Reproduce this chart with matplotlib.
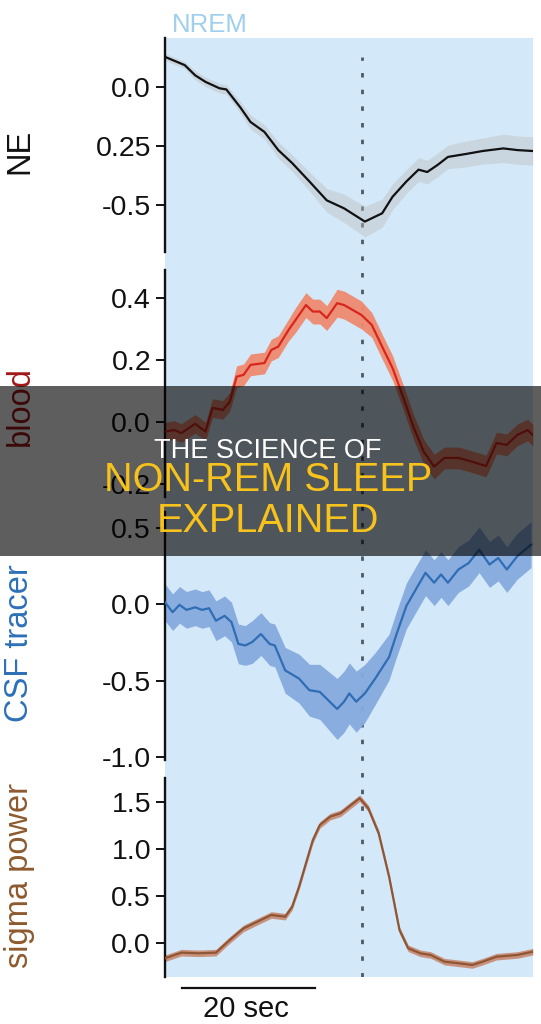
import matplotlib
matplotlib.use("Agg")
import matplotlib.pyplot as plt
from matplotlib.patches import Rectangle
import numpy as np

plt.rcParams['font.family'] = ['Liberation Sans', 'DejaVu Sans']

# ---------------- data (time in sec relative to the dashed line) ----------------
ne_t = [-29.5, -26.54, -24.98, -23.42, -21.34, -20.3, -18.23, -16.67, -14.59, -12.51,
        -10.43, -7.84, -5.24, -2.64, 0.48, 3.07, 4.63, 6.71, 8.53, 9.83, 11.39, 12.94,
        15.54, 18.14, 21.25, 23.33, 25.67]
ne_v = [0.128, 0.093, 0.05, 0.022, -0.005, -0.01, -0.085, -0.148, -0.19, -0.267,
        -0.322, -0.40, -0.48, -0.514, -0.57, -0.535, -0.465, -0.40, -0.35, -0.36,
        -0.33, -0.296, -0.284, -0.271, -0.26, -0.267, -0.271]
ne_e = [0.015, 0.015, 0.02, 0.02, 0.02, 0.02, 0.025, 0.03, 0.03, 0.035, 0.035, 0.04,
        0.05, 0.06, 0.065, 0.06, 0.055, 0.05, 0.05, 0.05, 0.05, 0.05, 0.055, 0.055,
        0.06, 0.06, 0.06]

blood_t = [-29.5, -28.1, -27.06, -24.98, -23.42, -22.38, -20.82, -19.79, -18.75, -17.71,
           -16.67, -14.59, -13.55, -12.51, -10.95, -9.91, -8.36, -7.32, -6.28, -5.24,
           -3.68, -2.64, -0.04, 1.51, 3.07, 4.63, 6.19, 7.75, 9.31, 10.87, 12.42, 14.5,
           16.06, 18.66, 20.22, 21.77, 23.33, 24.89, 25.67]
blood_v = [-0.031, -0.026, -0.036, -0.006, -0.031, 0.045, 0.039, 0.065, 0.146, 0.152,
           0.184, 0.19, 0.232, 0.243, 0.297, 0.329, 0.377, 0.356, 0.356, 0.335,
           0.383, 0.377, 0.345, 0.313, 0.243, 0.174, 0.082, -0.015, -0.096, -0.144,
           -0.116, -0.116, -0.125, -0.142, -0.068, -0.074, -0.042, -0.026, -0.042]
blood_e = [0.03, 0.03, 0.03, 0.03, 0.03, 0.03, 0.03, 0.03, 0.035, 0.035,
           0.035, 0.035, 0.035, 0.035, 0.035, 0.04, 0.04, 0.04, 0.04, 0.04,
           0.045, 0.045, 0.045, 0.04, 0.04, 0.04, 0.04, 0.04, 0.04, 0.04,
           0.035, 0.035, 0.035, 0.035, 0.035, 0.035, 0.035, 0.035, 0.035]

csf_t = [-29.5, -28.36, -27.32, -26.28, -24.98, -23.94, -22.9, -21.86, -20.56, -19.53,
         -18.49, -17.45, -16.41, -15.11, -13.81, -13.03, -11.47, -9.39, -7.84, -6.28,
         -3.68, -2.64, -1.86, -0.82, 0.48, 2.03, 4.11, 5.15, 6.71, 8.27, 9.57, 10.87,
         11.9, 12.94, 14.5, 16.06, 17.62, 19.18, 20.48, 21.77, 23.33, 25.41]
csf_v = [0.013, -0.052, -0.004, -0.037, -0.02, -0.037, -0.026, -0.108, -0.076, -0.117,
         -0.26, -0.27, -0.247, -0.195, -0.26, -0.27, -0.433, -0.487, -0.563, -0.574,
         -0.686, -0.638, -0.584, -0.638, -0.584, -0.487, -0.346, -0.206, -0.011, 0.108,
         0.206, 0.141, 0.195, 0.141, 0.227, 0.27, 0.357, 0.26, 0.303, 0.227, 0.314, 0.39]
csf_e = [0.12, 0.12, 0.12, 0.12, 0.12, 0.12, 0.12, 0.13, 0.13, 0.13,
         0.13, 0.13, 0.14, 0.14, 0.14, 0.14, 0.15, 0.16, 0.17, 0.18,
         0.2, 0.2, 0.2, 0.2, 0.19, 0.17, 0.15, 0.15, 0.15, 0.15,
         0.15, 0.15, 0.15, 0.15, 0.15, 0.15, 0.15, 0.15, 0.15, 0.15, 0.15, 0.15]

sig_t = [-29.5, -27.06, -24.46, -21.86, -19.79, -17.71, -15.63, -13.55, -11.47, -10.43,
         -9.39, -8.36, -7.32, -6.28, -4.72, -3.16, -1.6, -0.3, 0.99, 2.55, 4.11, 5.67,
         6.97, 8.79, 10.35, 12.42, 14.5, 16.58, 18.14, 20.22, 23.33, 25.67]
sig_v = [-0.163, -0.103, -0.11, -0.103, 0.032, 0.156, 0.227, 0.298, 0.28, 0.386,
         0.6, 0.848, 1.096, 1.255, 1.344, 1.38, 1.468, 1.54, 1.433, 1.167, 0.706, 0.138,
         -0.056, -0.11, -0.128, -0.199, -0.216, -0.234, -0.199, -0.146, -0.128, -0.093]
sig_e = [0.035] * len(sig_t)

ne_ticks = [0.0, -0.25, -0.5]
ne_ticklabels = ["0.0", "0.25", "-0.5"]
blood_ticks = [0.4, 0.2, 0.0, -0.2]
blood_ticklabels = ["0.4", "0.2", "0.0", "-0.2"]
csf_ticks = [0.5, 0.0, -0.5, -1.0]
csf_ticklabels = ["0.5", "0.0", "-0.5", "-1.0"]
sig_ticks = [1.5, 1.0, 0.5, 0.0]
sig_ticklabels = ["1.5", "1.0", "0.5", "0.0"]

XLIM = (-29.5, 25.7)
W, H = 541, 1024

fig = plt.figure(figsize=(W / 100, H / 100), dpi=100)
fig.patch.set_facecolor('white')


def box(x0, y0, x1, y1):
    """pixel box (top-left origin) -> figure fraction rect"""
    return [x0 / W, 1 - y1 / H, (x1 - x0) / W, (y1 - y0) / H]


# background NREM region + dashed line
bg = fig.add_axes(box(165, 38, 533, 977))
bg.set_facecolor('#d3e8f8')
bg.set_xlim(*XLIM)
bg.set_ylim(0, 1)
for s in bg.spines.values():
    s.set_visible(False)
bg.set_xticks([])
bg.set_yticks([])
bg.plot([0, 0], [0.0, 0.98], color='#4d5966', lw=2.0, dashes=(1.6, 4.4), zorder=1)

panels = [
    dict(rect=(165, 38, 533, 252), ylim=(-0.699, 0.208), t=ne_t, v=ne_v, e=ne_e,
         line='#111111', band='#bdbdbd', balpha=0.42, ticks=ne_ticks, tl=ne_ticklabels,
         label='NE', lcolor='#111111', ly=151),
    dict(rect=(165, 270, 533, 497), ylim=(-0.242, 0.49), t=blood_t, v=blood_v, e=blood_e,
         line='#d8261d', band='#ef8a6f', balpha=0.95, ticks=blood_ticks, tl=blood_ticklabels,
         label='blood', lcolor='#a01818', ly=406),
    dict(rect=(165, 512, 533, 760), ylim=(-1.02, 0.604), t=csf_t, v=csf_v, e=csf_e,
         line='#2f6db4', band='#86aadf', balpha=0.95, ticks=csf_ticks, tl=csf_ticklabels,
         label='CSF tracer', lcolor='#2d70b8', ly=643),
    dict(rect=(165, 778, 533, 977), ylim=(-0.362, 1.755), t=sig_t, v=sig_v, e=sig_e,
         line='#8e5634', band='#c98e78', balpha=0.95, ticks=sig_ticks, tl=sig_ticklabels,
         label='sigma power', lcolor='#8d5a2e', ly=876),
]

axes = []
for p in panels:
    ax = fig.add_axes(box(*p['rect']))
    ax.set_facecolor('none')
    ax.set_xlim(*XLIM)
    ax.set_ylim(*p['ylim'])
    t = np.array(p['t'])
    v = np.array(p['v'])
    e = np.array(p['e'])
    ax.fill_between(t, v - e, v + e, color=p['band'], alpha=p['balpha'], lw=0, zorder=2)
    ax.plot(t, v, color=p['line'], lw=1.6, zorder=3)
    for side in ['top', 'right', 'bottom']:
        ax.spines[side].set_visible(False)
    ax.spines['left'].set_linewidth(1.7)
    ax.spines['left'].set_color('#111111')
    ax.set_xticks([])
    ax.set_yticks(p['ticks'])
    ax.set_yticklabels(p['tl'])
    ax.tick_params(axis='y', length=6.5, width=1.4, pad=3.5, labelsize=20.5,
                   colors='#111111')
    fig.text(20 / W, 1 - p['ly'] / H, p['label'], rotation=90, ha='center', va='center',
             fontsize=23.5, color=p['lcolor'])
    axes.append(ax)

# scale bar
sax = axes[3]
sax.plot([-27.0, -7.0], [-0.48, -0.48], color='#111111', lw=1.6, clip_on=False)
sax.text(-17.3, -0.787, '20 sec', ha='center', va='baseline', fontsize=21,
         color='#111111', clip_on=False)

# NREM label
fig.text(172 / W, 1 - 32 / H, 'NREM', ha='left', va='baseline', fontsize=18.5,
         color='#9ecfec')

# banner overlay
fig.patches.append(Rectangle((0, 1 - 556 / H), 1, 170 / H, transform=fig.transFigure,
                             facecolor='black', alpha=0.63, edgecolor='none',
                             zorder=50))
fig.text(268 / W, 1 - 458 / H, 'THE SCIENCE OF', ha='center', va='baseline',
         fontsize=19.5, color='white', zorder=60)
fig.text(268 / W, 1 - 491 / H, 'NON-REM SLEEP', ha='center', va='baseline',
         fontsize=28.5, color='#f6c21b', zorder=60)
fig.text(268 / W, 1 - 532 / H, 'EXPLAINED', ha='center', va='baseline',
         fontsize=28.5, color='#f6c21b', zorder=60)

fig.savefig('out.png', dpi=100)
